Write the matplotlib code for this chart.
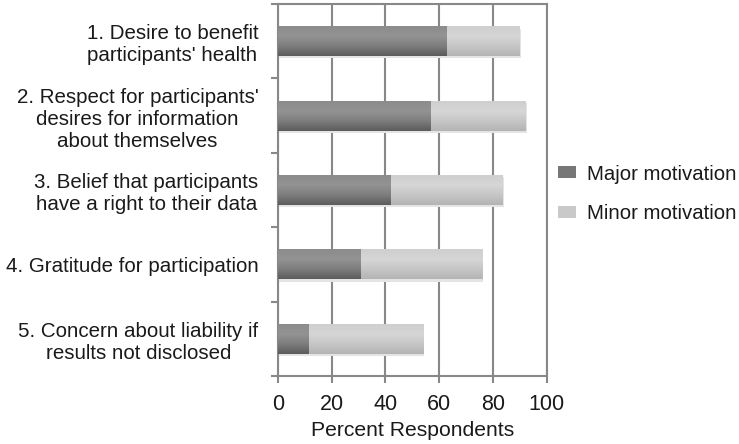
import numpy as np
from matplotlib import pyplot as plt
from matplotlib.colors import LinearSegmentedColormap

# 数据
labels = ["1. Desire to benefit\nparticipants' health",
          "2. Respect for participants'\ndesires for information\nabout themselves",
          "3. Belief that participants\nhave a right to their data",
          "4. Gratitude for participation",
          "5. Concern about liability if\nresults not disclosed"]
major = [63, 57, 42, 31, 11.5]
minor = [27, 35, 41.5, 45, 42.5]
series_names = ['Major motivation', 'Minor motivation']

plt.rcParams['font.family'] = ['Liberation Sans', 'DejaVu Sans']

fig = plt.figure(figsize=(7.39, 4.44), dpi=100)
ax = fig.add_axes([0.3758, 0.153, 0.364, 0.838])

y = np.arange(len(labels))
h = 0.4
b1 = ax.barh(y, major, height=h, color='#777777', label=series_names[0], zorder=3)
b2 = ax.barh(y, minor, left=major, height=h, color='#c9c9c9', label=series_names[1], zorder=3)

# 渐变效果
cm_major = LinearSegmentedColormap.from_list('mj', ['#8c8c8c', '#939393', '#7d7d7d', '#5c5c5c'])
cm_minor = LinearSegmentedColormap.from_list('mn', ['#cfcfcf', '#d6d6d6', '#c6c6c6', '#b4b4b4'])
grad = np.linspace(0, 1, 64).reshape(-1, 1)
for bars, cmap in ((b1, cm_major), (b2, cm_minor)):
    for p in bars:
        x0, y0, w, hh = p.get_x(), p.get_y(), p.get_width(), p.get_height()
        # 阴影
        ax.add_patch(plt.Rectangle((x0 + 0.5, y0 + 0.03), w, hh, color='#e4e4e4', zorder=2, lw=0))
        ax.imshow(grad, cmap=cmap, extent=[x0, x0 + w, y0 + hh, y0], aspect='auto', zorder=3.5)

ax.set_xlim(0, 100)
ax.set_ylim(len(labels) - 0.5, -0.5)
ax.set_xticks(np.arange(0, 101, 20))
ax.set_yticks(y)
ax.set_yticklabels(labels)
for lbl in ax.get_yticklabels():
    lbl.set_multialignment('center')
ax.set_yticks(np.arange(-0.5, len(labels)), minor=True)
ax.tick_params(axis='y', which='major', length=0, pad=14, labelsize=14.8, labelcolor='#1a1a1a')
ax.tick_params(axis='y', which='minor', length=5, width=1.5, color='#888888')
ax.tick_params(axis='x', length=5, width=1.5, color='#888888', pad=8, labelsize=15.5, labelcolor='#1a1a1a')
ax.xaxis.grid(True, color='#888888', linewidth=1.5, zorder=1)
ax.set_axisbelow(True)
for s in ax.spines.values():
    s.set_color('#888888')
    s.set_linewidth(1.5)
ax.set_xlabel('Percent Respondents', fontsize=15.2, color='#1a1a1a', labelpad=4)

leg = ax.legend(loc='center left', bbox_to_anchor=(1.01, 0.49), frameon=False,
                fontsize=14.7, handlelength=0.9, handleheight=0.5, handletextpad=0.55,
                labelspacing=1.0, borderaxespad=0)
for t in leg.get_texts():
    t.set_color('#1a1a1a')

plt.savefig('out.png', dpi=100)
